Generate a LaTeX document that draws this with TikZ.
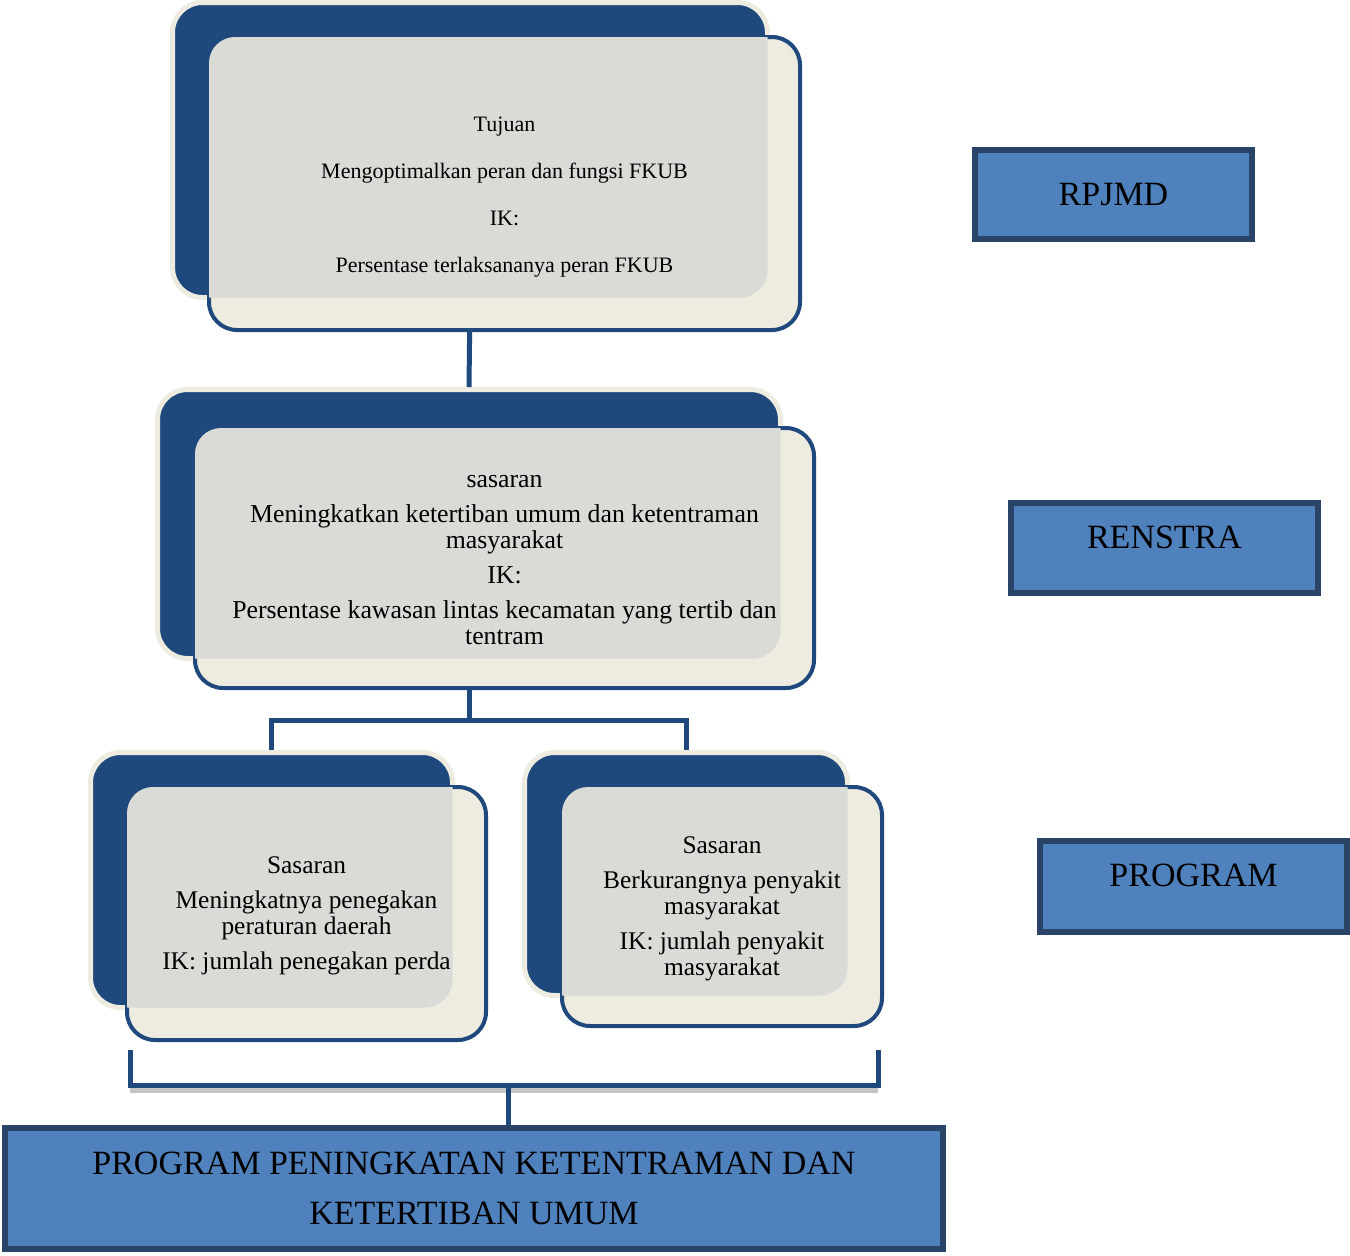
\documentclass[tikz,border=0pt]{standalone}
\usepackage{fontspec}
\setmainfont{Liberation Serif}
\definecolor{darkblue}{HTML}{1F497D}
\definecolor{cream}{HTML}{EEECE1}
\definecolor{veilgray}{HTML}{DADBD6}
\definecolor{boxblue}{HTML}{4F81BD}
\definecolor{boxline}{HTML}{2A4468}

\begin{document}
\begin{tikzpicture}[x=0.5pt,y=-0.5pt,
  back/.style={draw=cream,fill=darkblue,line width=2.5pt,rounded corners=15pt,inner sep=0pt},
  front/.style={draw=darkblue,fill=cream,line width=2pt,rounded corners=14pt,inner sep=0pt},
  veil/.style={fill=veilgray,rounded corners=14pt},
  boxtext/.style={align=center,inner sep=0pt},
  bluebox/.style={draw=boxline,fill=boxblue,line width=3pt,inner sep=0pt,font=\fontsize{17}{20}\selectfont},
  link/.style={draw=darkblue,line width=2.5pt}]
\useasboundingbox (0,0) rectangle (1350,1255);

% connectors first, boxes go over them
\node[back,minimum width=297.5pt,minimum height=147.5pt] (tujuanBack) at (470,150) {};
\node[back,minimum width=311.5pt,minimum height=134.5pt] (sasaranBack) at (469,524) {};
\node[back,minimum width=181pt,minimum height=127.5pt] (kiriBack) at (271.5,880) {};
\node[back,minimum width=161.5pt,minimum height=121.5pt] (kananBack) at (686,874) {};
\coordinate (cabang) at (469,720);
\draw[link] (tujuanBack.south) -- (sasaranBack.north);
\draw[link] (sasaranBack.south) -- (cabang);
\draw[link] (kiriBack.north) |- (cabang) -| (kananBack.north);

% top: tujuan
\node[front,minimum width=295.5pt,minimum height=146.5pt] (tujuan) at (504.5,183.5) {};
\begin{scope}
\clip[rounded corners=13pt] ([xshift=1pt,yshift=-1pt]tujuan.north west) rectangle ([xshift=-1pt,yshift=1pt]tujuan.south east);
\fill[veil] ([xshift=1.2pt,yshift=-1.2pt]tujuanBack.north west) rectangle ([xshift=-1.2pt,yshift=1.2pt]tujuanBack.south east);
\end{scope}
\node[boxtext,font=\fontsize{11}{13}\selectfont] (tujuanTxt) at ([yshift=-6.75pt]tujuan.center)
  {Tujuan\\[10.5pt]Mengoptimalkan peran dan fungsi FKUB\\[10.5pt]IK:\\[10.5pt]Persentase terlaksananya peran FKUB};

% middle: sasaran
\node[front,minimum width=309.5pt,minimum height=130pt] (sasaran) at (504.5,558) {};
\begin{scope}
\clip[rounded corners=13pt] ([xshift=1pt,yshift=-1pt]sasaran.north west) rectangle ([xshift=-1pt,yshift=1pt]sasaran.south east);
\fill[veil] ([xshift=1.2pt,yshift=-1.2pt]sasaranBack.north west) rectangle ([xshift=-1.2pt,yshift=1.2pt]sasaranBack.south east);
\end{scope}
\node[boxtext,font=\fontsize{12.9}{13}\selectfont] (sasaranTxt) at ([yshift=-1pt]sasaran.center)
  {sasaran\\[4.5pt]Meningkatkan ketertiban umum dan ketentraman\\masyarakat\\[4.5pt]IK:\\[4.5pt]Persentase kawasan lintas kecamatan yang tertib dan\\tentram};

% bottom left
\node[front,minimum width=179.5pt,minimum height=126.5pt] (kiri) at (306.5,913.5) {};
\begin{scope}
\clip[rounded corners=13pt] ([xshift=1pt,yshift=-1pt]kiri.north west) rectangle ([xshift=-1pt,yshift=1pt]kiri.south east);
\fill[veil] ([xshift=1.2pt,yshift=-1.2pt]kiriBack.north west) rectangle ([xshift=-1.2pt,yshift=1.2pt]kiriBack.south east);
\end{scope}
\node[boxtext,font=\fontsize{12.7}{13}\selectfont] (kiriTxt) at ([yshift=-1pt]kiri.center)
  {Sasaran\\[4.5pt]Meningkatnya penegakan\\peraturan daerah\\[4.5pt]IK: jumlah penegakan perda};

% bottom right
\node[front,minimum width=160pt,minimum height=119.5pt] (kanan) at (722,906.5) {};
\begin{scope}
\clip[rounded corners=13pt] ([xshift=1pt,yshift=-1pt]kanan.north west) rectangle ([xshift=-1pt,yshift=1pt]kanan.south east);
\fill[veil] ([xshift=1.2pt,yshift=-1.2pt]kananBack.north west) rectangle ([xshift=-1.2pt,yshift=1.2pt]kananBack.south east);
\end{scope}
\node[boxtext,font=\fontsize{12.7}{13}\selectfont] (kananTxt) at ([yshift=-1pt]kanan.center)
  {Sasaran\\[4.5pt]Berkurangnya penyakit\\masyarakat\\[4.5pt]IK: jumlah penyakit\\masyarakat};

% bracket to the program box
\node[bluebox,minimum width=469pt,minimum height=60.5pt,align=center,font=\fontsize{17}{25}\selectfont] (program) at (474,1188.5)
  {PROGRAM PENINGKATAN KETENTRAMAN DAN\\KETERTIBAN UMUM};
\coordinate (kurungL) at (130,1050);
\coordinate (kurungR) at (878,1050);
\coordinate (kurungM) at (508,1085);
\draw[link,draw=gray,opacity=0.45,line width=3pt] ([yshift=-2.5pt]kurungL |- kurungM) -- ([yshift=-2.5pt]kurungR |- kurungM);
\draw[link] (kurungL) |- (kurungM) -| (kurungR);
\draw[link] (kurungM) -- (kurungM |- program.north);

% labels on the right
\node[bluebox,minimum width=138.5pt,minimum height=44.5pt] (rpjmd) at (1113.5,194.5) {RPJMD};
\node[bluebox,minimum width=153.5pt,minimum height=45pt,text depth=11pt] (renstra) at (1164.5,548) {RENSTRA};
\node[bluebox,minimum width=153.5pt,minimum height=45.5pt,text depth=11pt] (prog) at (1193.5,886.5) {PROGRAM};
\end{tikzpicture}
\end{document}
